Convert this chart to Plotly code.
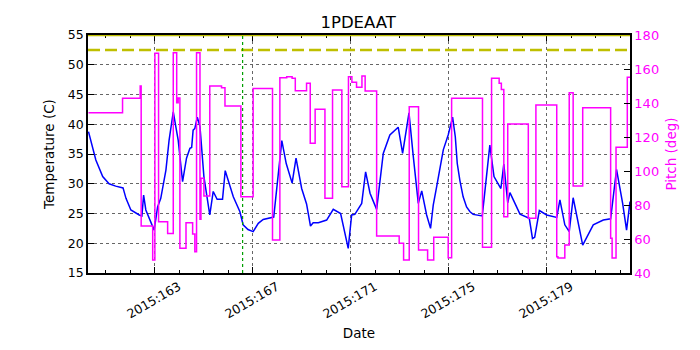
import plotly.graph_objects as go

# temperature samples (day of year 2015, deg C)
temp_day = [160.29, 160.45, 160.59, 160.87, 161.13, 161.40, 161.65, 161.70, 161.82, 162.02,
            162.36, 162.47, 162.54, 162.63, 162.91, 162.97, 163.11, 163.24, 163.45, 163.58,
            163.75, 163.95, 164.13, 164.29, 164.43, 164.50, 164.56, 164.63, 164.73, 164.84,
            165.00, 165.24, 165.38, 165.54, 165.76, 165.87, 166.20, 166.47, 166.60, 166.80,
            167.01, 167.22, 167.42, 167.85, 168.18, 168.36, 168.60, 168.76, 168.99, 169.19,
            169.35, 169.46, 169.67, 170.01, 170.28, 170.58, 170.89, 171.03, 171.16, 171.44,
            171.60, 171.78, 172.05, 172.32, 172.59, 172.93, 173.11, 173.37, 173.54, 173.75,
            173.89, 174.09, 174.25, 174.36, 174.50, 174.77, 174.97, 175.15, 175.26, 175.34,
            175.45, 175.58, 175.72, 175.86, 175.99, 176.36, 176.67, 176.84, 177.12, 177.24,
            177.40, 177.49, 177.90, 178.28, 178.41, 178.50, 178.69, 178.99, 179.40, 179.53,
            179.73, 179.91, 180.07, 180.24, 180.46, 180.89, 181.30, 181.60, 181.84, 182.09,
            182.25, 182.39]
temp_val = [38.75, 36.0, 34.0, 31.2, 30.0, 29.6, 29.4, 29.3, 27.55, 25.6,
            24.75, 24.6, 28.1, 25.6, 22.8, 22.2, 26.1, 27.55, 32.3, 37.35,
            42.1, 37.35, 30.35, 34.3, 35.95, 36.1, 39.0, 39.3, 41.2, 39.6,
            31.2, 24.75, 28.7, 27.4, 27.4, 32.2, 27.8, 25.3, 23.1, 22.3,
            21.95, 23.35, 24.0, 24.4, 37.25, 33.4, 30.1, 34.3, 29.2, 26.6,
            22.9, 23.45, 23.45, 23.9, 25.7, 25.0, 19.15, 24.75, 24.85, 26.7,
            32.0, 28.4, 25.7, 35.1, 38.2, 39.5, 35.1, 41.9, 34.8, 26.7,
            28.8, 24.75, 22.5, 26.4, 29.5, 35.7, 38.2, 41.2, 37.9, 33.4,
            30.5, 27.8, 26.1, 25.3, 24.85, 24.6, 36.5, 31.2, 29.2, 33.3,
            26.8, 28.5, 24.9, 24.2, 20.8, 21.0, 25.5, 24.75, 24.35, 27.3,
            23.1, 21.95, 27.65, 23.9, 19.7, 23.1, 23.9, 24.1, 32.4, 26.7,
            22.2, 27.0]

# pitch steps (day of year 2015, deg)
pitch_day = [160.29, 161.68, 162.40, 162.44, 162.91, 163.00, 163.15, 163.52, 163.75, 163.89,
             163.95, 164.02, 164.27, 164.54, 164.63, 164.70, 164.84, 164.88, 165.00, 165.24,
             165.72, 165.86, 166.51, 167.01, 167.80, 168.10, 168.38, 168.60, 168.73, 169.19,
             169.34, 169.54, 169.94, 170.25, 170.63, 170.90, 171.04, 171.23, 171.45, 171.58,
             172.05, 172.97, 173.15, 173.38, 173.76, 174.13, 174.38, 174.97, 175.11, 176.37,
             176.74, 177.05, 177.14, 177.24, 177.40, 178.24, 178.55, 179.40, 179.45, 179.73,
             179.91, 180.07, 180.46, 181.60, 181.66, 181.82, 182.28, 182.39]
pitch_val = [134.3, 142.8, 150.0, 67.6, 47.6, 169.2, 70.2, 63.3, 169.6, 140.2,
             143.0, 54.5, 69.6, 63.0, 52.5, 169.6, 71.6, 95.7, 85.3, 150.0,
             149.0, 138.2, 84.9, 148.6, 59.4, 154.9, 155.5, 154.5, 147.2, 151.6,
             116.3, 136.3, 83.9, 147.6, 90.8, 155.5, 152.2, 149.2, 155.9, 147.1,
             61.8, 57.5, 47.6, 137.8, 53.5, 47.6, 61.0, 49.0, 142.8, 55.1,
             154.5, 151.6, 148.0, 73.1, 127.6, 72.2, 138.8, 49.6, 48.8, 56.5,
             146.1, 91.2, 137.2, 60.4, 48.8, 113.9, 155.1, 155.1]

planning_limit = 52.5
caution_limit = 55.0
marker_day = 166.58

tick_days = [163, 167, 171, 175, 179]
tick_labels = [f"2015:{d}" for d in tick_days]

font = "DejaVu Sans"

fig = go.Figure()
fig.add_trace(go.Scatter(x=temp_day, y=temp_val, mode="lines",
                         line=dict(color="#0000ff", width=1.5), yaxis="y"))
fig.add_trace(go.Scatter(x=pitch_day, y=pitch_val, mode="lines", line_shape="hv",
                         line=dict(color="#ff00ff", width=1.5), yaxis="y2"))

fig.add_hline(y=planning_limit, line=dict(color="#bfbf00", width=2.5, dash="12px,5px"))
fig.add_hline(y=caution_limit, line=dict(color="#bfbf00", width=2.5))
fig.add_vline(x=marker_day, line=dict(color="#00a000", width=1.2, dash="dot"))

# page body has an 8px margin, so the figure is 8px smaller than the window
fig.update_layout(
    width=692, height=342,
    margin=dict(l=80, r=70, t=27, b=77, autoexpand=False),
    paper_bgcolor="white", plot_bgcolor="white",
    showlegend=False,
    font=dict(family=font, size=12.5, color="black"),
    title=dict(text="1PDEAAT", x=0.506, xanchor="center", y=0.958, yanchor="middle",
               automargin=False, font=dict(size=16.5, color="black")),
    xaxis=dict(
        range=[160.27, 182.39], automargin=False,
        tickmode="array", tickvals=tick_days, ticktext=tick_labels, tickangle=-30,
        ticklabelshift=24,
        ticks="inside", ticklen=6, tickcolor="black",
        minor=dict(dtick=1, tick0=163, ticks="inside", ticklen=3, tickcolor="black", showgrid=False),
        showgrid=True, gridcolor="#666", griddash="dot", gridwidth=1,
        showline=True, linecolor="black", linewidth=1.5, mirror="ticks",
        zeroline=False,
        title=dict(text="Date", standoff=8, font=dict(size=13.5)),
        tickfont=dict(size=12.5),
    ),
    yaxis=dict(
        range=[15, 55], dtick=5, automargin=False,
        ticks="inside", ticklen=6, tickcolor="black",
        showgrid=True, gridcolor="#666", griddash="dot", gridwidth=1,
        showline=True, linecolor="black", linewidth=1.5, mirror=True,
        zeroline=False,
        title=dict(text="Temperature (C)", standoff=10, font=dict(size=13.5)),
        tickfont=dict(size=12.5),
    ),
    yaxis2=dict(
        range=[40, 180], dtick=20, overlaying="y", side="right", automargin=False,
        ticks="inside", ticklen=6, tickcolor="black",
        showgrid=False, zeroline=False,
        showline=True, linecolor="black", linewidth=1.5,
        title=dict(text="Pitch (deg)", standoff=8, font=dict(size=13.5, color="#ff00ff")),
        tickfont=dict(size=13, color="#ff00ff"),
    ),
)

fig.write_html("out.html")
